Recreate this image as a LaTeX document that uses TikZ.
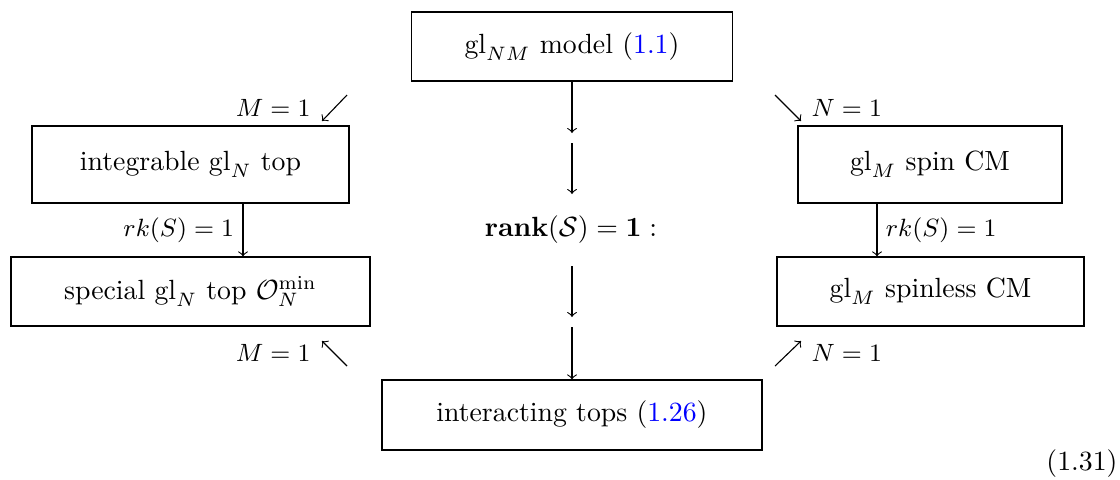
\documentclass[tikz,border=0pt]{standalone}
\usepackage{amsmath,amssymb}
\begin{document}
\begin{tikzpicture}[x=0.36pt,y=-0.36pt,line width=0.4pt,
  box/.style={draw,inner sep=0pt},
  lbl/.style={inner sep=0pt,font=\small},
  arr/.style={->}]
\useasboundingbox (0,0) rectangle (1120,479);
% boxes
\node[box,minimum width=321*0.36pt,minimum height=69*0.36pt] (top) at (572,46.5) {$\mathrm{gl}_{NM}$ model (\textcolor{blue}{1.1})};
\node[box,minimum width=317*0.36pt,minimum height=77*0.36pt] (itop) at (190.5,164.5) {integrable $\mathrm{gl}_N$ top};
\node[box,minimum width=359*0.36pt,minimum height=69*0.36pt] (stop) at (190.5,291.5) {special $\mathrm{gl}_N$ top $\mathcal{O}_N^{\min}$};
\node[box,minimum width=264*0.36pt,minimum height=77*0.36pt] (spin) at (930,164.5) {$\mathrm{gl}_M$ spin CM};
\node[box,minimum width=307*0.36pt,minimum height=69*0.36pt] (spinless) at (930.5,291.5) {$\mathrm{gl}_M$ spinless CM};
\node[box,minimum width=380*0.36pt,minimum height=70*0.36pt] (bot) at (572,415) {interacting tops (\textcolor{blue}{1.26})};
\node[inner sep=0pt] (rank) at (571,230) {$\mathbf{rank}(\mathcal{S})=\mathbf{1}:$};
\node[inner sep=0pt,anchor=east] (eqno) at (1118,464) {(1.31)};
% central column
\coordinate (c1) at (572,133);
\coordinate (c2) at (572,143);
\coordinate (c3) at (572,194);
\coordinate (c4) at (572,266);
\coordinate (c5) at (572,317);
\coordinate (c6) at (572,327);
\draw[arr] (top.south) -- (c1);
\draw[arr] (c2) -- (c3);
\draw[arr] (c4) -- (c5);
\draw[arr] (c6) -- (bot.north);
% side arrows
\draw[arr] (itop.south -| 243,0) -- (stop.north -| 243,0) node[midway,left=3pt,lbl] {$rk(S)=1$};
\draw[arr] (spin.south -| 877,0) -- (spinless.north -| 877,0) node[midway,right=3pt,lbl] {$rk(S)=1$};
% diagonal arrows
\coordinate (d1a) at (347,95);  \coordinate (d1b) at (322,121);
\coordinate (d2a) at (775,95);  \coordinate (d2b) at (801,121);
\coordinate (d3a) at (347,366); \coordinate (d3b) at (322,341);
\coordinate (d4a) at (775,366); \coordinate (d4b) at (801,341);
\draw[arr] (d1a) -- (d1b);
\draw[arr] (d2a) -- (d2b);
\draw[arr] (d3a) -- (d3b);
\draw[arr] (d4a) -- (d4b);
\node[lbl,anchor=east] (l1) at (311,108) {$M=1$};
\node[lbl,anchor=west] (l2) at (811,108) {$N=1$};
\node[lbl,anchor=east] (l3) at (311,353) {$M=1$};
\node[lbl,anchor=west] (l4) at (811,353) {$N=1$};
\end{tikzpicture}
\end{document}
